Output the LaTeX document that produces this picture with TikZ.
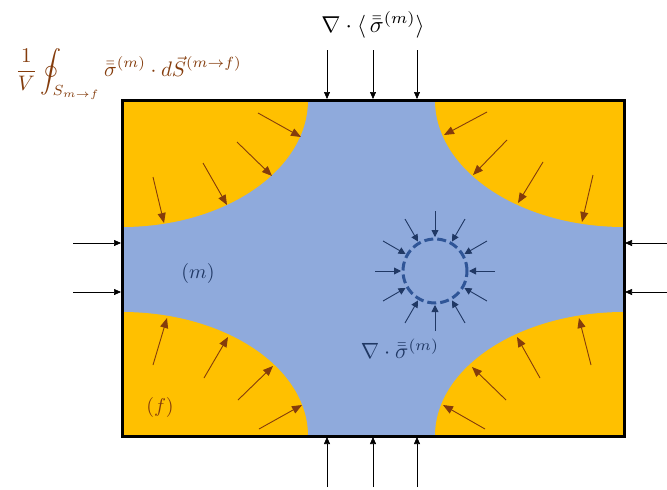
\documentclass[tikz,border=0pt]{standalone}
\usepackage{amsmath}
\usetikzlibrary{arrows.meta,calc}
\definecolor{matblue}{HTML}{8FAADC}
\definecolor{fibor}{HTML}{FFC000}
\definecolor{brn}{HTML}{843C0C}
\definecolor{dblue}{HTML}{203864}
\definecolor{cblue}{HTML}{2F5597}
\newcommand{\tens}{\bar{\bar{\sigma}}}
\begin{document}
\begin{tikzpicture}[x=1pt,y=-1pt,
  blackarrow/.style={-{Triangle[length=7pt,width=6pt]}, line width=0.6pt, black},
  brownarrow/.style={-{Triangle[length=10pt,width=8pt]}, line width=0.9pt, brn},
  bluearrow/.style={-{Triangle[length=7pt,width=7pt]}, line width=0.9pt, dblue},
  lab/.style={inner sep=0pt, transform shape, scale=2.0}
]
\useasboundingbox (0,0) rectangle (667,490);
% matrix region
\fill[matblue] (122,100) rectangle (624,436);
\begin{scope}
  \clip (122,100) rectangle (624,436);
  \fill[fibor] (122,100) ellipse[x radius=186, y radius=127];
  \fill[fibor] (624,100) ellipse[x radius=189, y radius=127];
  \fill[fibor] (122,436) ellipse[x radius=186, y radius=124];
  \fill[fibor] (624,436) ellipse[x radius=189, y radius=124];
\end{scope}
\node[draw=black, line width=3pt, minimum width=502pt, minimum height=336pt, inner sep=0pt] (box) at (373,268) {};

% brown arrows (fibre boundary traction)
\foreach \i/\sx/\sy/\ex/\ey in {
  1/153/177/164/223, 2/203/163/227/205, 3/237/142/272/176, 4/258/113/301/137,
  5/487/112/444/135, 6/507/140/473/175, 7/543/162/518/203, 8/593/175/582/222,
  9/153/365/167/318, 10/204/378/228/337, 11/238/400/273/366, 12/259/429/302/405,
  13/485/429/443/405, 14/506/400/472/367, 15/540/378/517/337, 16/591/365/579/318}{
  \coordinate (bs\i) at (\sx,\sy);
  \coordinate (be\i) at (\ex,\ey);
  \draw[brownarrow] (bs\i) -- (be\i);
}

% external black arrows
\foreach \i/\x in {1/327,2/373,3/417}{
  \coordinate (ts\i) at (\x,50);
  \coordinate (te\i) at (\x,99);
  \draw[blackarrow] (ts\i) -- (te\i);
  \coordinate (us\i) at (\x,487);
  \coordinate (ue\i) at (\x,437);
  \draw[blackarrow] (us\i) -- (ue\i);
}
\foreach \i/\y in {1/243,2/292}{
  \coordinate (ls\i) at (73,\y);
  \coordinate (le\i) at (121,\y);
  \draw[blackarrow] (ls\i) -- (le\i);
  \coordinate (rs\i) at (667,\y);
  \coordinate (re\i) at (625,\y);
  \draw[blackarrow] (rs\i) -- (re\i);
}

% hole
\node[circle, draw=cblue, line width=3pt, dash pattern=on 9pt off 4pt, minimum size=64pt, inner sep=0pt] (hole) at (435,271) {};
\foreach \a in {0,30,...,330}{
  \coordinate (hs\a) at ($(hole.center)+(\a:60)$);
  \coordinate (he\a) at ($(hole.center)+(\a:34)$);
  \draw[bluearrow] (hs\a) -- (he\a);
}

% labels
\node[lab, scale=1.15] (toplab) at (373,25) {$\nabla\cdot\langle\,\tens^{(m)}\rangle$};
\node[lab, scale=1.05, text=brn, anchor=west] (surflab) at (15,74) {$\dfrac{1}{V}\displaystyle\oint_{S_{m\to f}}\tens^{(m)}\cdot d\vec{S}^{(m\to f)}$};
\node[lab, text=dblue] (mlab) at (198,273) {$(m)$};
\node[lab, text=brn] (flab) at (160,407) {$(f)$};
\node[lab, scale=1.1, text=dblue] (divlab) at (400,349) {$\nabla\cdot\tens^{(m)}$};
\end{tikzpicture}
\end{document}
